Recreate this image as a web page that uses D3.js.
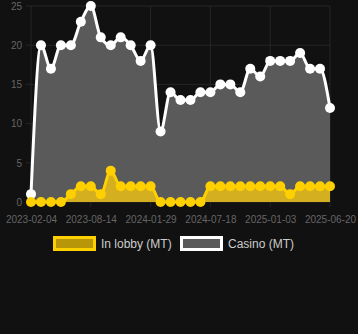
<!DOCTYPE html>
<html>
<head>
<meta charset="utf-8">
<script src="https://cdn.jsdelivr.net/npm/d3@7"></script>
<style>
  body { margin: 0; background: #111111; }
  svg { display: block; font-family: "Liberation Sans", Arial, sans-serif; }
</style>
</head>
<body>
<div id="chart"></div>
<script>
// values, one point per month-ish step
var casino = [1, 20, 17, 20, 20, 23, 25, 21, 20, 21, 20, 18, 20, 9, 14, 13, 13, 14, 14, 15, 15, 14, 17, 16, 18, 18, 18, 19, 17, 17, 12];
var lobby  = [0, 0, 0, 0, 1, 2, 2, 1, 4, 2, 2, 2, 2, 0, 0, 0, 0, 0, 2, 2, 2, 2, 2, 2, 2, 2, 1, 2, 2, 2, 2];
var tickIdx = [0, 6, 12, 18, 24, 30];
var tickLabels = ["2023-02-04", "2023-08-14", "2024-01-29", "2024-07-18", "2025-01-03", "2025-06-20"];
var yTicks = [0, 5, 10, 15, 20, 25];
var seriesNames = ["In lobby (MT)", "Casino (MT)"];

var width = 358, height = 334;
var svg = d3.select("#chart").append("svg")
    .attr("width", width)
    .attr("height", height);

var x = d3.scalePoint().domain(d3.range(casino.length)).range([31, 330]);
var y = d3.scaleLinear().domain([0, 25]).range([202, 6]);

// grid
var grid = svg.append("g");
grid.selectAll(".hg").data(yTicks).enter().append("line")
    .attr("x1", 26).attr("x2", 330)
    .attr("y1", d => y(d)).attr("y2", d => y(d))
    .attr("stroke", "#262626").attr("stroke-width", 1);
grid.selectAll(".vg").data(tickIdx).enter().append("line")
    .attr("x1", d => x(d)).attr("x2", d => x(d))
    .attr("y1", y(25)).attr("y2", y(0) + 5)
    .attr("stroke", "#262626").attr("stroke-width", 1);

// axes
var yAxis = d3.axisLeft(y).tickValues(yTicks).tickSize(0).tickPadding(4);
var gy = svg.append("g").attr("transform", "translate(26,0)").call(yAxis);
var xAxis = d3.axisBottom(x).tickValues(tickIdx).tickSize(0).tickPadding(14)
    .tickFormat((d, i) => tickLabels[i]);
var gx = svg.append("g").attr("transform", "translate(0," + y(0) + ")").call(xAxis);
[gx, gy].forEach(function(g) {
    g.select(".domain").remove();
    g.selectAll("text").attr("fill", "#666666").style("font-size", "10px")
        .style("font-family", "'Liberation Sans', Arial, sans-serif");
});

var area = d3.area().x((d, i) => x(i)).y0(y(0)).y1(d => y(d)).curve(d3.curveMonotoneX);
var line = d3.line().x((d, i) => x(i)).y(d => y(d)).curve(d3.curveMonotoneX);

function drawSeries(data, fill, stroke) {
    svg.append("path").datum(data).attr("d", area).attr("fill", fill);
    svg.append("path").datum(data).attr("d", line)
        .attr("fill", "none").attr("stroke", stroke).attr("stroke-width", 3)
        .attr("stroke-linejoin", "round");
    svg.append("g").selectAll("circle").data(data).enter().append("circle")
        .attr("cx", (d, i) => x(i)).attr("cy", d => y(d)).attr("r", 5)
        .attr("fill", stroke);
}
drawSeries(casino, "#5a5a5a", "#ffffff");
drawSeries(lobby, "#d4af1f", "#ffd000");

// legend
var legend = [
    {name: seriesNames[0], fill: "#b8960a", stroke: "#ffd000", x: 53},
    {name: seriesNames[1], fill: "#5a5a5a", stroke: "#ffffff", x: 180}
];
var lg = svg.append("g").selectAll("g").data(legend).enter().append("g");
lg.append("rect")
    .attr("x", d => d.x + 1.5).attr("y", 237.5)
    .attr("width", 40).attr("height", 12)
    .attr("fill", d => d.fill).attr("stroke", d => d.stroke).attr("stroke-width", 3);
lg.append("text")
    .attr("x", d => d.x + 48).attr("y", 244)
    .attr("dy", "0.35em")
    .attr("fill", "#cccccc").style("font-size", "12px")
    .text(d => d.name);
</script>
</body>
</html>
